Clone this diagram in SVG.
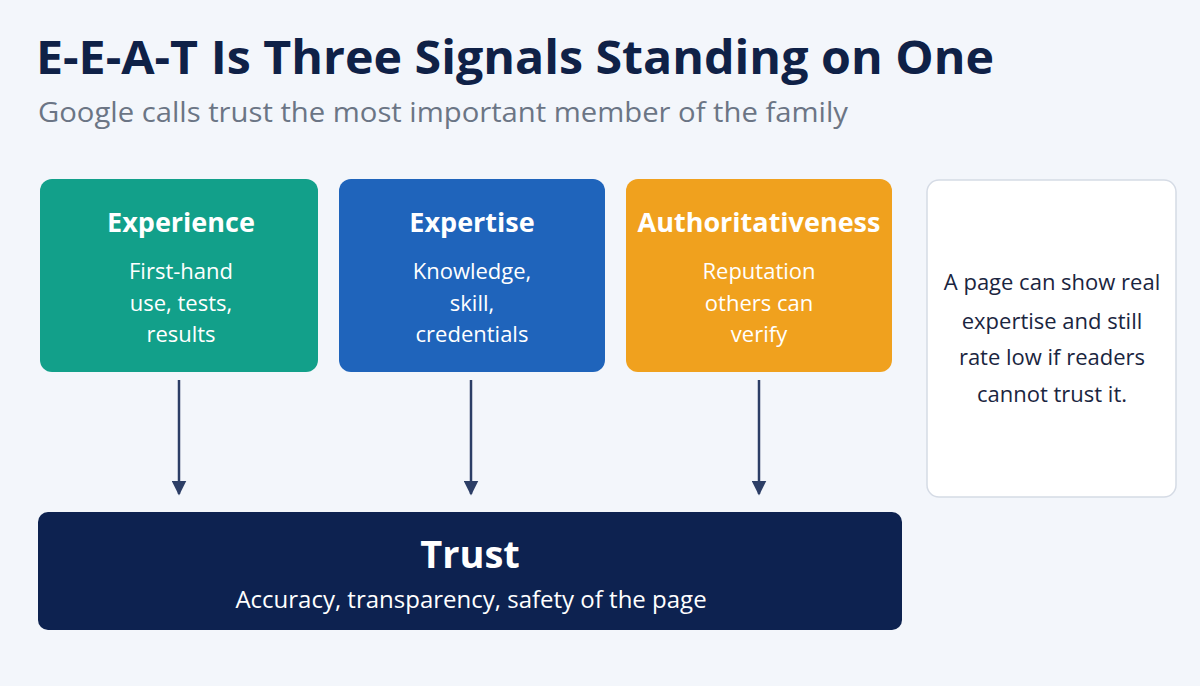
<svg xmlns="http://www.w3.org/2000/svg" width="1200" height="686" viewBox="0 0 1200 686">
<style>
text{font-family:"Open Sans","Noto Sans","Liberation Sans",sans-serif}
.h{font-size:27px;font-weight:700;fill:#fff;text-anchor:middle}
.b{font-size:22px;fill:#fff;text-anchor:middle}
.c{stroke:#2c3e66;stroke-width:2.5;fill:none}
</style>
<defs><marker id="ah" viewBox="0 0 10 10" refX="9" refY="5" markerWidth="6" markerHeight="6" orient="auto" markerUnits="strokeWidth"><path d="M0,0L10,5L0,10z" fill="#2c3e66"/></marker></defs>
<rect width="1200" height="686" fill="#f3f6fb"/>
<text x="36" y="74" font-size="47" font-weight="700" fill="#0f2147" textLength="958" lengthAdjust="spacingAndGlyphs">E-E-A-T Is Three Signals Standing on One</text>
<text x="38" y="122" font-size="28" fill="#6b7585" textLength="810" lengthAdjust="spacingAndGlyphs">Google calls trust the most important member of the family</text>
<g id="experience"><rect x="40" y="179" width="278" height="193" rx="12" fill="#12a08a"/>
<text class="h" x="181" y="232">Experience</text>
<text class="b" x="181" y="279">First-hand</text><text class="b" x="181" y="311">use, tests,</text><text class="b" x="181" y="342">results</text></g>
<g id="expertise"><rect x="339" y="179" width="266" height="193" rx="12" fill="#1f64bb"/>
<text class="h" x="472" y="232">Expertise</text>
<text class="b" x="472" y="279">Knowledge,</text><text class="b" x="472" y="311">skill,</text><text class="b" x="472" y="342">credentials</text></g>
<g id="authoritativeness"><rect x="626" y="179" width="266" height="193" rx="12" fill="#f0a11e"/>
<text class="h" x="759" y="232">Authoritativeness</text>
<text class="b" x="759" y="279">Reputation</text><text class="b" x="759" y="311">others can</text><text class="b" x="759" y="342">verify</text></g>
<g id="note"><rect x="927" y="180" width="249" height="317" rx="12" fill="#fff" stroke="#d5dbe5" stroke-width="1.5"/>
<g font-size="22" fill="#1a2540" text-anchor="middle"><text x="1052" y="290">A page can show real</text><text x="1052" y="329">expertise and still</text><text x="1052" y="365">rate low if readers</text><text x="1052" y="402">cannot trust it.</text></g></g>
<g id="trust"><rect x="38" y="512" width="864" height="118" rx="10" fill="#0d2250"/>
<text x="470" y="568" font-size="38" font-weight="700" fill="#fff" text-anchor="middle">Trust</text>
<text x="471" y="608" font-size="24" fill="#fff" text-anchor="middle">Accuracy, transparency, safety of the page</text></g>
<g id="connectors">
<line class="c" x1="179" y1="380" x2="179" y2="494" marker-end="url(#ah)"/>
<line class="c" x1="471" y1="380" x2="471" y2="494" marker-end="url(#ah)"/>
<line class="c" x1="759" y1="380" x2="759" y2="494" marker-end="url(#ah)"/>
</g>
</svg>
